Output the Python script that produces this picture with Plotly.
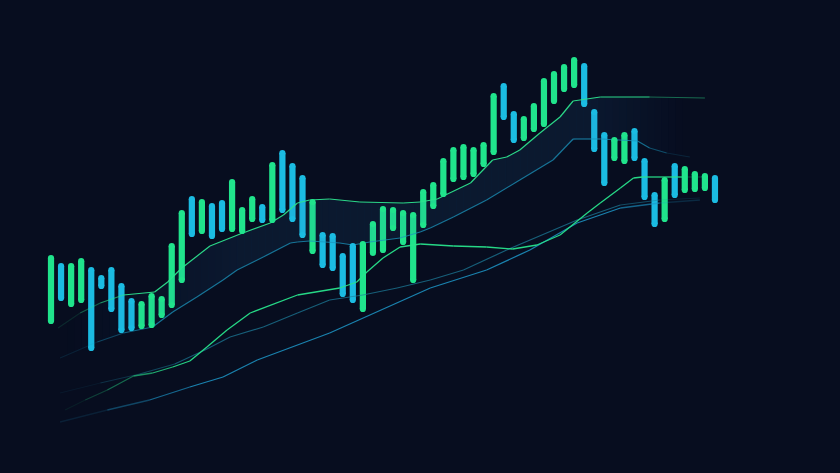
import numpy as np
import plotly.graph_objects as go

# ---- candle bodies (index, open, close) in price units ----
bar_open = [176, 237, 193, 197, 233, 225, 233, 217, 202, 171, 172, 182, 192, 217,
            304, 266, 297, 300, 268, 266, 278, 296, 277, 350, 337, 325, 246, 268,
            267, 247, 257, 188, 244, 247, 269, 255, 217, 272, 291, 303, 318, 320,
            323, 333, 345, 417, 389, 359, 368, 373, 396, 408, 412, 437, 391, 368,
            339, 336, 372, 342, 308, 278, 337, 307, 308, 309, 325]
bar_close = [245, 199, 237, 242, 149, 211, 188, 167, 169, 199, 207, 204, 257, 290,
             263, 301, 261, 268, 321, 293, 304, 277, 338, 287, 278, 262, 301, 232,
             229, 203, 197, 259, 279, 294, 293, 290, 288, 311, 318, 342, 353, 356,
             353, 358, 407, 380, 357, 384, 397, 422, 429, 436, 443, 393, 348, 314,
             363, 368, 339, 300, 273, 323, 302, 334, 329, 327, 297]
bar_index = list(range(len(bar_open)))

# ---- indicator lines (x in bar-index units, y in price units) ----
upper_x = [0.7, 2.9, 4.9, 7.2, 10.3, 11.6, 13.0, 15.8, 18.8, 21.8, 23.1, 24.5, 25.7, 27.7,
           30.7, 35.0, 36.7, 38.4, 39.0, 41.7, 43.9, 45.3, 46.6, 48.6, 50.6, 51.9, 54.6,
           59.5, 65.0]
upper_y = [172, 187, 197, 205, 208, 218, 232, 254, 266, 277, 285, 297, 300, 301,
           298, 297, 298, 301, 304, 317, 340, 343, 350, 367, 383, 399, 403, 403, 402]

mid_x = [0.9, 4.6, 7.2, 10.1, 12.1, 14.5, 17.1, 18.5, 21.1, 23.8, 24.5, 25.7, 28.7, 30.0,
         31.7, 34.7, 36.7, 37.7, 40.0, 43.3, 46.6, 49.9, 51.9, 54.6, 58.3, 59.5, 61.2, 63.5]
mid_y = [142, 158, 167, 173, 188, 203, 220, 230, 243, 257, 258, 259, 257, 255,
         258, 262, 268, 272, 283, 300, 320, 340, 361, 361, 359, 352, 347, 343]

fast_x = [1.4, 3.4, 5.6, 8.2, 10.1, 12.1, 13.8, 15.5, 17.5, 19.8, 24.5, 28.7, 30.4, 31.4,
          33.0, 34.7, 36.7, 40.0, 43.3, 45.9, 48.3, 50.6, 53.3, 54.6, 56.6, 57.9, 58.8,
          62.8, 65.0]
fast_y = [90, 100, 110, 124, 127, 133, 139, 153, 170, 187, 205, 212, 218, 228,
          242, 253, 256, 254, 253, 251, 255, 265, 287, 297, 312, 322, 323, 323, 323]

slow_x = [0.9, 4.9, 8.8, 12.3, 15.3, 17.8, 21.1, 24.5, 27.7, 31.0, 34.4, 37.7, 41.0, 45.3,
          52.3, 56.6, 60.5, 64.5]
slow_y = [107, 117, 126, 136, 150, 163, 173, 187, 200, 205, 212, 220, 230, 250,
          280, 295, 300, 302]

low_x = [0.9, 5.6, 9.8, 13.8, 17.1, 20.5, 27.7, 37.7, 43.3, 47.6, 52.3, 56.6, 60.5, 64.5]
low_y = [78, 90, 100, 113, 123, 140, 167, 212, 230, 250, 277, 292, 297, 300]

BG = "#070d1f"
GREEN = "#20e48c"
BLUE = "#1bbce2"

fig = go.Figure()

# soft band fill between upper and middle lines, fading at both ends
g = np.linspace(max(upper_x[0], mid_x[0]), min(upper_x[-1], mid_x[-1]), 90)
u = np.interp(g, upper_x, upper_y)
m = np.interp(g, mid_x, mid_y)
for k in range(len(g) - 1):
    xm = 0.5 * (g[k] + g[k + 1])
    a = 0.11 * min(1.0, max(0.0, (xm - g[0]) / 18)) * min(1.0, max(0.0, (g[-1] - xm) / 10))
    if a <= 0.004:
        continue
    fig.add_trace(go.Scatter(x=[g[k], g[k + 1] + 0.02, g[k + 1] + 0.02, g[k], g[k]],
                             y=[u[k], u[k + 1], m[k + 1], m[k], u[k]],
                             mode="lines", fill="toself", line=dict(width=0, color="rgba(0,0,0,0)"),
                             fillcolor=f"rgba(45,125,185,{a:.3f})", hoverinfo="skip", showlegend=False))


def faded_line(xs, ys, rgb, base, width, fin, fout):
    x0, x1 = xs[0], xs[-1]
    for k in range(len(xs) - 1):
        xm = 0.5 * (xs[k] + xs[k + 1])
        a = base * min(1.0, max(0.0, (xm - x0) / fin)) * min(1.0, max(0.0, (x1 - xm) / fout))
        a = max(a, 0.06)
        fig.add_trace(go.Scatter(x=[xs[k], xs[k + 1]], y=[ys[k], ys[k + 1]], mode="lines",
                                 line=dict(color=f"rgba({rgb},{a:.3f})", width=width),
                                 hoverinfo="skip", showlegend=False))


faded_line(low_x, low_y, "29,150,200", 0.85, 1.3, 14, 8)
faded_line(slow_x, slow_y, "30,130,160", 0.7, 1.2, 14, 8)
faded_line(mid_x, mid_y, "28,150,190", 0.75, 1.2, 9, 5)
faded_line(fast_x, fast_y, "40,228,140", 0.95, 1.3, 12, 5)
faded_line(upper_x, upper_y, "45,227,142", 0.95, 1.2, 8, 6)

# candle bodies
cap = 3  # half of the body width, in price units (1 unit ~ 1 px)
for up, col in ((True, GREEN), (False, BLUE)):
    idx = [i for i in bar_index if (bar_close[i] > bar_open[i]) == up]
    lo = [min(bar_open[i], bar_close[i]) for i in idx]
    hi = [max(bar_open[i], bar_close[i]) for i in idx]
    fig.add_trace(go.Bar(x=idx, base=[l + cap for l in lo], y=[h - l - 2 * cap for l, h in zip(lo, hi)],
                         width=0.62, marker=dict(color=col, line=dict(width=0)),
                         hoverinfo="skip", showlegend=False))
    fig.add_trace(go.Scatter(x=idx + idx, y=[l + cap for l in lo] + [h - cap for h in hi], mode="markers",
                             marker=dict(color=col, size=6.2, line=dict(width=0)),
                             hoverinfo="skip", showlegend=False))

fig.update_layout(
    width=840, height=473,
    margin=dict(l=0, r=0, t=0, b=0),
    paper_bgcolor=BG, plot_bgcolor=BG,
    barmode="overlay",
    xaxis=dict(range=[-5.07, 78.43], visible=False, fixedrange=True),
    yaxis=dict(range=[27, 500], visible=False, fixedrange=True),
    showlegend=False,
)

fig.write_html("out.html", config={"displayModeBar": False},
               post_script="document.body.style.margin='0';document.body.style.background='" + BG + "';")
